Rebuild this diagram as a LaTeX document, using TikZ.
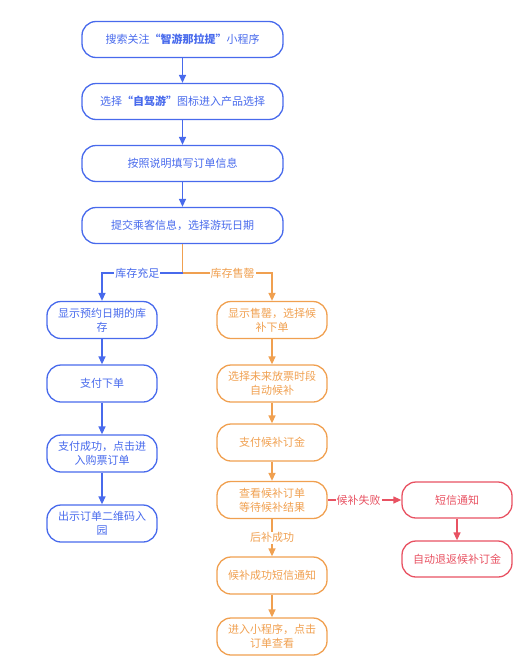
\documentclass[tikz,border=0pt]{standalone}
\usepackage{fontspec}
\setmainfont{Noto Sans CJK SC}
\usetikzlibrary{arrows.meta}
\definecolor{cblue}{RGB}{72,106,236}
\definecolor{corange}{RGB}{240,160,80}
\definecolor{cred}{RGB}{232,82,98}
\tikzset{
  box/.style={draw, line width=1.3pt, rounded corners=14pt, align=center,
    font=\fontsize{11}{14}\selectfont, inner sep=2pt},
  topbox/.style={box, draw=cblue, text=cblue, minimum width=201pt, minimum height=36pt},
  lbox/.style={box, draw=cblue, text=cblue, minimum width=110pt, minimum height=37pt},
  obox/.style={box, draw=corange, text=corange, minimum width=110pt, minimum height=37pt},
  rbox/.style={box, draw=cred, text=cred, minimum width=110pt, minimum height=36pt},
  arr/.style={line width=1.3pt, -{Triangle[width=7pt,length=8pt]}},
  lab/.style={fill=white, inner sep=1pt, font=\fontsize{11}{13}\selectfont},
}
\begin{document}
\begin{tikzpicture}[x=1pt,y=1pt]
\useasboundingbox (0,0) rectangle (530,-672);
\node[topbox] (b1) at (182.5,-39.5) {搜索关注\textbf{“智游那拉提”}小程序};
\node[topbox] (b2) at (182.5,-101.5) {选择\textbf{“自驾游”}图标进入产品选择};
\node[topbox] (b3) at (182.5,-163.5) {按照说明填写订单信息};
\node[topbox] (b4) at (182.5,-225.5) {提交乘客信息，选择游玩日期};
\coordinate (br) at (182.5,-273);

\node[lbox] (l1) at (102,-320) {显示预约日期的库\\存};
\node[lbox] (l2) at (102,-383.5) {支付下单};
\node[lbox] (l3) at (102,-453.5) {支付成功，点击进\\入购票订单};
\node[lbox] (l4) at (102,-523.5) {出示订单二维码入\\园};

\node[obox] (r1) at (272,-320) {显示售罄，选择候\\补下单};
\node[obox] (r2) at (272,-383.5) {选择未来放票时段\\自动候补};
\node[obox] (r3) at (272,-442.5) {支付候补订金};
\node[obox] (r4) at (272,-500) {查看候补订单\\等待候补结果};
\node[obox] (r5) at (272,-575.5) {候补成功短信通知};
\node[obox] (r6) at (272,-636.5) {进入小程序，点击\\订单查看};

\node[rbox] (s1) at (457,-500) {短信通知};
\node[rbox] (s2) at (457,-559) {自动退返候补订金};

\draw[arr, cblue] (b1) -- (b2);
\draw[arr, cblue] (b2) -- (b3);
\draw[arr, cblue] (b3) -- (b4);
\draw[line width=1.3pt, corange] (b4) -- (br);
\draw[arr, cblue] (br) -| node[lab, pos=0.28, text=cblue] {库存充足} (l1);
\draw[arr, corange] (br) -| node[lab, pos=0.28, text=corange] {库存售罄} (r1);

\draw[arr, cblue] (l1) -- (l2);
\draw[arr, cblue] (l2) -- (l3);
\draw[arr, cblue] (l3) -- (l4);

\draw[arr, corange] (r1) -- (r2);
\draw[arr, corange] (r2) -- (r3);
\draw[arr, corange] (r3) -- (r4);
\draw[arr, corange] (r4) -- node[lab, text=corange] {后补成功} (r5);
\draw[arr, corange] (r5) -- (r6);

\draw[arr, cred] (r4) -- node[lab, pos=0.42, text=cred] {候补失败} (s1);
\draw[arr, cred] (s1) -- (s2);
\end{tikzpicture}
\end{document}
